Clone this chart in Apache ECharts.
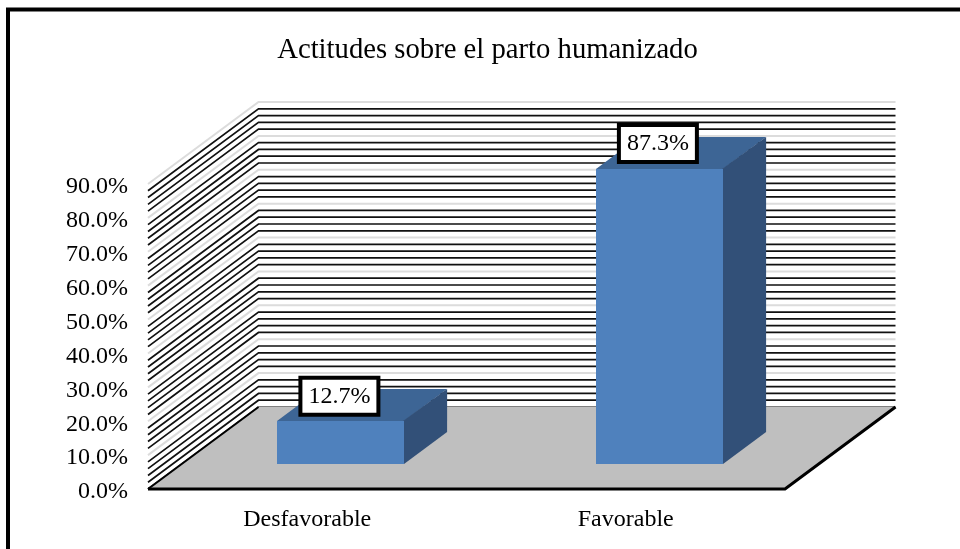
<!DOCTYPE html>
<html>
<head>
<meta charset="utf-8">
<style>html,body{margin:0;padding:0;background:#fff}#c{width:960px;height:549px}</style>
<script src="https://cdn.jsdelivr.net/npm/echarts@6/dist/echarts.min.js"></script>
</head>
<body>
<div id="c"></div>
<script>
const titleText = 'Actitudes sobre el parto humanizado';
const categories = ['Desfavorable', 'Favorable'];
const values = [12.7, 87.3];
const wallTicks = [0,2,4,6,8,10,12,14,16,18,20,22,24,26,28,30,32,34,36,38,40,42,44,46,48,50,52,54,56,58,60,62,64,66,68,70,72,74,76,78,80,82,84,86,88,90];
const axisMax = 90;
const axisStep = 10;

const FONT = '"Liberation Serif","Times New Roman",serif';
const DEPTH_X = 110.5, DEPTH_Y = -82;      // oblique floor depth in px
const BAR_FRONT = 0.3, BAR_BACK = 0.69;    // bar's place inside the depth
const BAR_WIDTH = 0.398;                   // fraction of category band

const chart = echarts.init(document.getElementById('c'), null, {renderer: 'canvas'});

function renderWall(params, api) {
  const v = api.value(0);
  const p0 = api.coord([0, v]);
  const size = api.size([1, 0]);
  const left = p0[0] - size[0] / 2;
  const right = left + size[0] * categories.length;
  const isMajor = v % axisStep === 0 && v !== 0;
  return {
    type: 'polyline',
    silent: true,
    shape: {points: [
      [left, p0[1]],
      [left + DEPTH_X, p0[1] + DEPTH_Y],
      [right + DEPTH_X, p0[1] + DEPTH_Y]
    ]},
    style: {fill: 'none', stroke: isMajor ? '#dcdcdc' : (v === 0 ? '#555555' : '#111111'), lineWidth: isMajor ? 2 : 1.7}
  };
}

function renderFloor(params, api) {
  const a = api.coord([0, 0]);
  const size = api.size([1, 0]);
  const left = a[0] - size[0] / 2, right = left + size[0] * categories.length, y = a[1];
  return {
    type: 'group', silent: true,
    children: [
      {type: 'polygon', shape: {points: [[left, y], [left + DEPTH_X, y + DEPTH_Y], [right + DEPTH_X, y + DEPTH_Y], [right, y]]},
       style: {fill: '#bfbfbf'}},
      {type: 'polyline', shape: {points: [[left + DEPTH_X, y + DEPTH_Y], [left, y]]},
       style: {fill: 'none', stroke: '#000', lineWidth: 2}},
      {type: 'polyline', shape: {points: [[left, y], [right, y], [right + DEPTH_X, y + DEPTH_Y]]},
       style: {fill: 'none', stroke: '#000', lineWidth: 3}}
    ]
  };
}

function renderBar(params, api) {
  const i = api.value(0), v = api.value(1);
  const base = api.coord([i, 0]), top = api.coord([i, v]);
  const w = api.size([1, 0])[0] * BAR_WIDTH;
  const ox = DEPTH_X * BAR_FRONT, oy = DEPTH_Y * BAR_FRONT;
  const dx = DEPTH_X * (BAR_BACK - BAR_FRONT), dy = DEPTH_Y * (BAR_BACK - BAR_FRONT);
  const x0 = Math.round(base[0] - w / 2 + ox), x1 = Math.round(x0 + w), yb = Math.round(base[1] + oy), yt = Math.round(top[1] + oy);
  return {
    type: 'group', silent: true,
    children: [
      {type: 'polygon', shape: {points: [[x0, yt], [x1, yt], [x1 + dx, yt + dy], [x0 + dx, yt + dy]]}, style: {fill: '#3d6595'}},
      {type: 'polygon', shape: {points: [[x1 - 1, yb], [x1 - 1, yt], [x1 + dx, yt + dy], [x1 + dx, yb + dy], [x1, yb]]}, style: {fill: '#325078'}},
      {type: 'rect', shape: {x: x0, y: yt, width: x1 - x0, height: yb - yt}, style: {fill: '#4f81bd'}}
    ]
  };
}

function renderLabel(params, api) {
  const i = api.value(0), v = api.value(1);
  const top = api.coord([i, v]);
  const ox = DEPTH_X * BAR_FRONT, oy = DEPTH_Y * BAR_FRONT;
  return {
    type: 'text', silent: true, z2: 100,
    x: top[0] + ox - 1, y: top[1] + oy - 25,
    style: {
      text: v.toFixed(1) + '%', font: '24px ' + FONT, fill: '#000',
      align: 'center', verticalAlign: 'middle',
      backgroundColor: '#fff', borderColor: '#000', borderWidth: 4,
      padding: [7, 6, 2, 6]
    }
  };
}

chart.setOption({
  animation: false,
  backgroundColor: '#fff',
  title: {
    text: titleText, left: 482.5, top: 31, textAlign: 'center',
    textStyle: {fontFamily: FONT, fontSize: 28.7, fontWeight: 'normal', color: '#000'}
  },
  grid: {left: 148, top: 184, width: 637, height: 305, containLabel: false},
  xAxis: {
    type: 'category', data: categories,
    axisLine: {show: false}, axisTick: {show: false}, splitLine: {show: false},
    axisLabel: {fontFamily: FONT, fontSize: 24, color: '#000', margin: 19}
  },
  yAxis: {
    type: 'value', min: 0, max: axisMax, interval: axisStep,
    axisLine: {show: false}, axisTick: {show: false}, splitLine: {show: false},
    axisLabel: {fontFamily: FONT, fontSize: 24, color: '#000', margin: 20, verticalAlign: 'top', lineHeight: 6, formatter: v => v.toFixed(1) + '%'}
  },
  graphic: [{
    type: 'polyline', silent: true, z: -1,
    shape: {points: [[8, 549], [8, 9.5], [960, 9.5]]},
    style: {fill: 'none', stroke: '#000', lineWidth: 4}
  }],
  series: [
    {type: 'custom', name: 'wall', coordinateSystem: 'cartesian2d', data: wallTicks.map(t => [t]), encode: {y: 0}, renderItem: renderWall, z: 1, clip: false},
    {type: 'custom', name: 'floor', coordinateSystem: 'cartesian2d', data: [[0]], encode: {x: 0}, renderItem: renderFloor, z: 2, clip: false},
    {type: 'custom', name: 'bars', coordinateSystem: 'cartesian2d', data: values.map((v, i) => [i, v]), encode: {x: 0, y: 1}, renderItem: renderBar, z: 3, clip: false},
    {type: 'custom', name: 'labels', coordinateSystem: 'cartesian2d', data: values.map((v, i) => [i, v]), encode: {x: 0, y: 1}, renderItem: renderLabel, z: 4, clip: false}
  ]
});
</script>
</body>
</html>
